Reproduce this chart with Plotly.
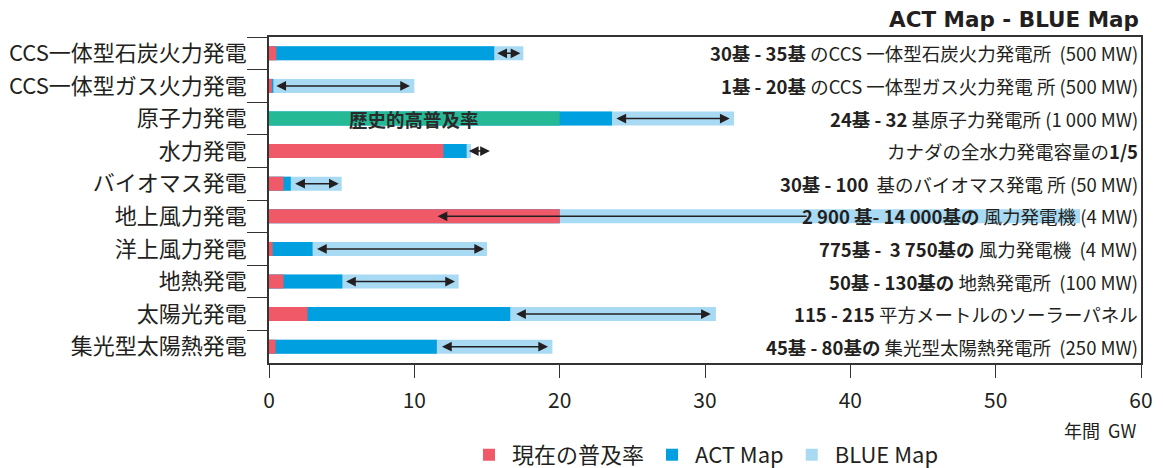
import plotly.graph_objects as go

categories = ["CCS一体型石炭火力発電", "CCS一体型ガス火力発電", "原子力発電", "水力発電",
              "バイオマス発電", "地上風力発電", "洋上風力発電", "地熱発電", "太陽光発電",
              "集光型太陽熱発電"]
current = [0.5, 0.2, None, 12.0, 1.0, 20.0, 0.25, 1.0, 2.65, 0.45]
act_map = [15.5, 0.3, 23.6, 13.6, 1.5, 20.0, 3.0, 5.05, 16.6, 11.55]
blue_map = [17.5, 10.0, 32.0, 13.9, 5.0, 55.8, 15.0, 13.05, 30.75, 19.5]
historic = [None, None, 20.0, None, None, None, None, None, None, None]
arrow_from = [15.6, 0.4, 23.8, 13.65, 1.7, 37.1, 3.2, 5.2, 16.9, 11.8]
arrow_to = [17.3, 9.7, 31.7, 15.2, 4.8, 11.6, 14.8, 12.8, 30.4, 19.2]
arrow_both = [True, True, True, True, True, False, True, True, True, True]
notes = [
    "<b>30基 - 35基</b> のCCS 一体型石炭火力発電所  (500 MW)",
    "<b>1基 - 20基</b> のCCS 一体型ガス火力発電 所 (500 MW)",
    "<b>24基 - 32</b> 基原子力発電所 (1 000 MW)",
    "カナダの全水力発電容量の<b>1/5</b>",
    "<b>30基 - 100</b>  基のバイオマス発電 所 (50 MW)",
    "<b>2 900 基- 14 000基の</b> 風力発電機 (4 MW)",
    "<b>775基 -  3 750基の</b> 風力発電機  (4 MW)",
    "<b>50基 - 130基の</b> 地熱発電所  (100 MW)",
    "<b>115 - 215</b> 平方メートルのソーラーパネル",
    "<b>45基 - 80基の</b> 集光型太陽熱発電所  (250 MW)",
]
x_ticks = [0, 10, 20, 30, 40, 50, 60]

RED = "#F05A68"
BLUE = "#00A0E0"
LIGHT = "#A9DAF3"
GREEN = "#25B996"
DARK = "#231F20"
FONT = "Noto Sans CJK JP"
BW = 0.43

fig = go.Figure()
fig.add_trace(go.Bar(y=categories, x=blue_map, orientation="h", name="BLUE Map",
                     marker=dict(color=LIGHT, line_width=0), width=BW, legendrank=3))
fig.add_trace(go.Bar(y=categories, x=act_map, orientation="h", name="ACT Map",
                     marker=dict(color=BLUE, line_width=0), width=BW, legendrank=2))
fig.add_trace(go.Bar(y=categories, x=current, orientation="h", name="現在の普及率",
                     marker=dict(color=RED, line_width=0), width=BW, legendrank=1))
fig.add_trace(go.Bar(y=categories, x=historic, orientation="h", name="歴史的高普及率",
                     marker=dict(color=GREEN, line_width=0), width=BW, showlegend=False))

annotations = []
for cat, a, b, both in zip(categories, arrow_from, arrow_to, arrow_both):
    annotations.append(dict(
        x=b, y=cat, ax=a, ay=cat, xref="x", yref="y", axref="x", ayref="y",
        text="", showarrow=True, arrowhead=2, arrowsize=1.3, arrowwidth=1.5,
        arrowcolor=DARK, arrowside="end+start" if both else "end",
        standoff=0, startstandoff=0))
for cat, note in zip(categories, notes):
    annotations.append(dict(
        x=0.999, xref="paper", y=cat, yref="y", text=note, showarrow=False,
        xanchor="right", yanchor="middle", font=dict(family=FONT, size=18.5, color=DARK)))
for cat, h in zip(categories, historic):
    if h is not None:
        annotations.append(dict(
            x=h / 2, y=cat, xref="x", yref="y", text="<b>歴史的高普及率</b>",
            showarrow=False, font=dict(family=FONT, size=18.5, color="#2a2a2a")))
annotations.append(dict(
    x=1.0, xref="paper", y=1.0, yref="paper", yshift=3, text="<b>ACT Map - BLUE Map</b>",
    showarrow=False, xanchor="right", yanchor="bottom",
    font=dict(family="DejaVu Sans", size=21.5, color=DARK)))
annotations.append(dict(
    x=0.953, xref="paper", y=-0.205, yref="paper", text="年間  GW", showarrow=False,
    xanchor="center", yanchor="middle", font=dict(family=FONT, size=18, color=DARK)))

fig.update_layout(
    width=1163, height=468,
    margin=dict(l=269, r=22, t=37, b=105, autoexpand=False),
    barmode="overlay",
    plot_bgcolor="white", paper_bgcolor="white",
    font=dict(family=FONT, color=DARK),
    annotations=annotations,
    legend=dict(orientation="h", x=0.5, xanchor="center", y=-0.282, yanchor="middle",
                font=dict(family=FONT, size=22, color=DARK), traceorder="normal",
                itemsizing="constant", itemwidth=36),
)
fig.update_xaxes(range=[0, 60], tickvals=x_ticks, ticks="outside", ticklen=13,
                 tickcolor="#333", showline=True, linecolor="#333", linewidth=1.5,
                 mirror=True, showgrid=False, zeroline=False, ticklabelstandoff=5,
                 tickfont=dict(family=FONT, size=21, color=DARK))
fig.update_yaxes(categoryorder="array", categoryarray=categories, autorange="reversed",
                 tickson="boundaries", ticks="outside", ticklen=20, tickcolor="#333",
                 showline=True, linecolor="#333", linewidth=1.5, mirror=True,
                 showgrid=False, ticklabelstandoff=16,
                 tickfont=dict(family=FONT, size=22, color=DARK))

fig.write_html("out.html")
